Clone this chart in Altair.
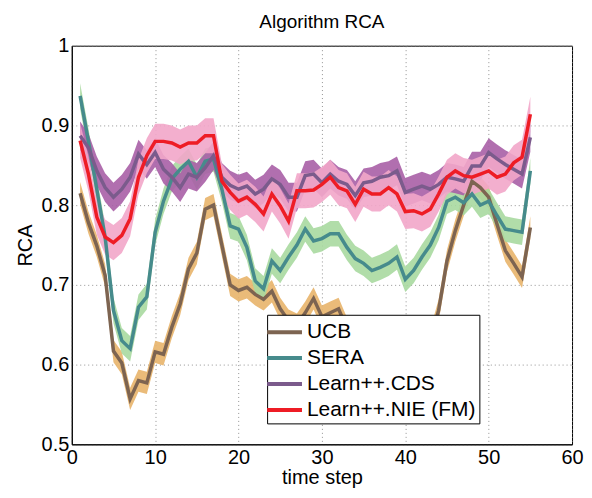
import altair as alt
import pandas as pd

t = list(range(1, 56))

ucb = [0.815, 0.778, 0.749, 0.712, 0.617, 0.602, 0.557, 0.58, 0.577, 0.616,
       0.613, 0.647, 0.676, 0.72, 0.74, 0.795, 0.80, 0.75, 0.70, 0.693,
       0.697, 0.688, 0.682, 0.692, 0.67, 0.655, 0.65, 0.665, 0.683, 0.66,
       0.665, 0.67, 0.645, 0.63, 0.62, 0.62, 0.615, 0.61, 0.61, 0.605,
       0.60, 0.61, 0.63, 0.668, 0.73, 0.768, 0.80, 0.83, 0.822, 0.81,
       0.776, 0.743, 0.727, 0.71, 0.772]
sera = [0.937, 0.88, 0.82, 0.76, 0.668, 0.63, 0.62, 0.672, 0.685, 0.766,
        0.805, 0.833, 0.845, 0.855, 0.835, 0.855, 0.858, 0.82, 0.774, 0.77,
        0.747, 0.705, 0.695, 0.73, 0.718, 0.735, 0.75, 0.77, 0.755, 0.758,
        0.764, 0.764, 0.747, 0.733, 0.727, 0.718, 0.722, 0.727, 0.735, 0.707,
        0.718, 0.735, 0.75, 0.772, 0.805, 0.81, 0.803, 0.814, 0.80, 0.805,
        0.787, 0.77, 0.768, 0.766, 0.843]
cds = [0.887, 0.872, 0.843, 0.822, 0.81, 0.82, 0.835, 0.864, 0.851, 0.866,
       0.845, 0.835, 0.822, 0.839, 0.835, 0.847, 0.862, 0.835, 0.825, 0.82,
       0.824, 0.814, 0.82, 0.833, 0.826, 0.81, 0.81, 0.837, 0.839, 0.828,
       0.839, 0.83, 0.826, 0.812, 0.828, 0.83, 0.835, 0.837, 0.843, 0.816,
       0.82, 0.824, 0.82, 0.826, 0.835, 0.833, 0.83, 0.849, 0.849, 0.866,
       0.858, 0.851, 0.845, 0.839, 0.885]
nie = [0.881, 0.839, 0.785, 0.76, 0.753, 0.762, 0.783, 0.835, 0.862, 0.88,
       0.88, 0.878, 0.873, 0.878, 0.878, 0.887, 0.887, 0.83, 0.816, 0.805,
       0.81, 0.801, 0.789, 0.814, 0.799, 0.78, 0.818, 0.818, 0.819, 0.826,
       0.835, 0.822, 0.818, 0.801, 0.82, 0.814, 0.814, 0.822, 0.814, 0.792,
       0.793, 0.789, 0.795, 0.814, 0.835, 0.843, 0.837, 0.835, 0.839, 0.843,
       0.835, 0.839, 0.853, 0.86, 0.914]

names = ["UCB", "SERA", "Learn++.CDS", "Learn++.NIE (FM)"]
spread = [0.014, 0.016, 0.018, 0.022]
line_colors = ["#7d6451", "#468b8c", "#7b5b8c", "#ee1c25"]
band_colors = ["#e8b46a", "#a8d9a0", "#a95fa6", "#f2a6c9"]

rows = []
for name, vals, s in zip(names, [ucb, sera, cds, nie], spread):
    for ti, v in zip(t, vals):
        rows.append({"t": ti, "series": name, "v": v, "lo": v - s, "hi": v + s})
df = pd.DataFrame(rows)

FONT = "Liberation Sans"

x = alt.X("t:Q", scale=alt.Scale(domain=[0, 60], nice=False),
          axis=alt.Axis(title="time step", values=[0, 10, 20, 30, 40, 50, 60]))
y = alt.Y("v:Q", scale=alt.Scale(domain=[0.5, 1], nice=False),
          axis=alt.Axis(title="RCA", values=[0.5, 0.6, 0.7, 0.8, 0.9, 1.0], format="~g"))

bands = alt.Chart(df).mark_area(opacity=0.9).encode(
    x=x,
    y=alt.Y("lo:Q", scale=alt.Scale(domain=[0.5, 1], nice=False)),
    y2="hi:Q",
    fill=alt.Fill("series:N", scale=alt.Scale(domain=names, range=band_colors), legend=None),
    detail="series:N",
)

lines = alt.Chart(df).mark_line(strokeWidth=3.5).encode(
    x=x,
    y=y,
    stroke=alt.Stroke("series:N", scale=alt.Scale(domain=names, range=line_colors),
                      legend=alt.Legend(title=None, orient="none", legendX=196, legendY=270,
                                        fillColor="white", strokeColor="black",
                                        padding=3, symbolType="M-1.4,0L1.4,0", symbolSize=625,
                                        symbolStrokeWidth=4, labelFontSize=21,
                                        labelFont=FONT, labelColor="black",
                                        rowPadding=1, labelLimit=300, labelOffset=8,
                                        offset=0)),
)

chart = alt.layer(bands, lines).resolve_scale(
    fill="independent", stroke="independent"
).resolve_legend(fill="independent", stroke="independent").properties(
    width=502, height=400,
    title=alt.TitleParams("Algorithm RCA", fontSize=19, font=FONT,
                          fontWeight="normal", color="black", offset=4),
    padding={"left": 7, "top": 4, "right": 0, "bottom": 0},
).configure_axis(
    labelFont=FONT, titleFont=FONT,
    labelFontSize=20, titleFontSize=20, titleFontWeight="normal",
    labelColor="black", titleColor="black",
    domainColor="black", ticks=False, labelFlush=False,
    grid=True, gridColor="#777777", gridDash=[1, 3], gridOpacity=0.8,
    labelPadding=3,
).configure_axisY(titlePadding=6).configure_axisX(titlePadding=0).configure_view(
    stroke="black", strokeWidth=1
)

chart.save("out.html", embed_options={"renderer": "svg", "actions": False})
